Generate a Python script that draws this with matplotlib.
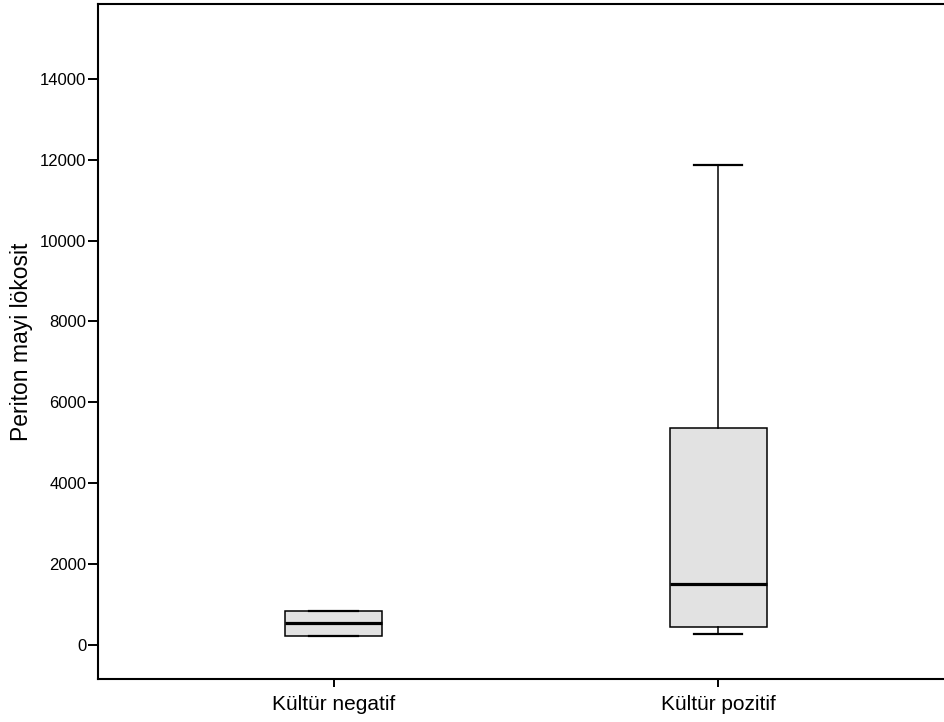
import matplotlib.pyplot as plt

plt.rcParams['font.family'] = ['Liberation Sans', 'DejaVu Sans']

# Gruplar ve kutu grafiği istatistikleri
groups = ['Kültür negatif', 'Kültür pozitif']
q1 = [230, 453]
medians = [537, 1501]
q3 = [833, 5359]
whisker_low = [230, 265]
whisker_high = [833, 11863]

y_ticks = [0, 2000, 4000, 6000, 8000, 10000, 12000, 14000]

stats = []
for i, name in enumerate(groups):
    stats.append({
        'label': name,
        'q1': q1[i],
        'med': medians[i],
        'q3': q3[i],
        'whislo': whisker_low[i],
        'whishi': whisker_high[i],
        'fliers': [],
    })

fig = plt.figure(figsize=(9.44, 7.22), dpi=100)
ax = fig.add_axes([0.1038, 0.0596, 0.9065, 0.935])

ax.bxp(stats, positions=[1, 2], widths=0.252, patch_artist=True,
       showfliers=False,
       boxprops=dict(facecolor='#e2e2e2', edgecolor='black', linewidth=1.1),
       medianprops=dict(color='black', linewidth=2.3),
       whiskerprops=dict(color='black', linewidth=1.1),
       capprops=dict(color='black', linewidth=1.6),
       capwidths=0.126)

ax.set_xlim(0.3875, 2.6125)
ax.set_ylim(-841, 15853)
ax.set_yticks(y_ticks)
ax.set_yticklabels([str(v) for v in y_ticks], fontsize=12)
ax.set_xticks([1, 2])
ax.set_xticklabels(groups, fontsize=15)

ax.tick_params(axis='y', length=7, width=1.4, pad=1.5)
ax.tick_params(axis='x', length=5.5, width=1.4, pad=6)
for side in ['left', 'bottom', 'top', 'right']:
    ax.spines[side].set_linewidth(1.5)

ax.set_ylabel('Periton mayi lökosit', fontsize=16.5)
ax.yaxis.set_label_coords(-0.076, 0.5)

fig.savefig('out.png', dpi=100)
